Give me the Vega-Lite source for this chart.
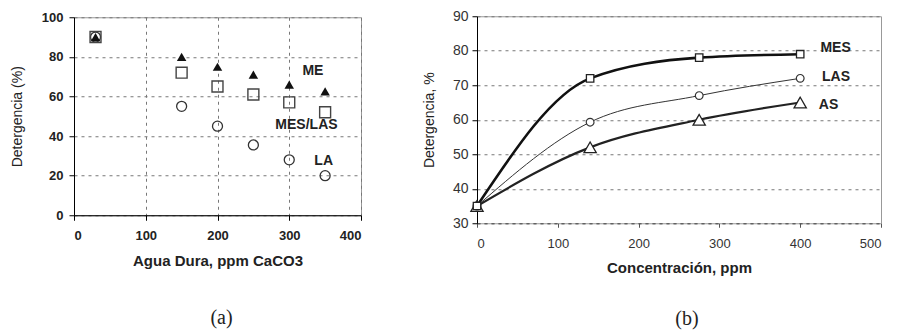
{
  "$schema": "https://vega.github.io/schema/vega-lite/v6.json",
  "background": "white",
  "padding": {"left": 9, "top": 8, "right": 5, "bottom": 0},
  "spacing": 59,
  "center": true,
  "datasets": {
    "a": [
      {"series": "LA", "x": 30, "y": 90},
      {"series": "LA", "x": 150, "y": 55},
      {"series": "LA", "x": 200, "y": 45},
      {"series": "LA", "x": 250, "y": 35.5},
      {"series": "LA", "x": 300, "y": 28},
      {"series": "LA", "x": 350, "y": 20},
      {"series": "MES/LAS", "x": 30, "y": 90},
      {"series": "MES/LAS", "x": 150, "y": 72},
      {"series": "MES/LAS", "x": 200, "y": 65},
      {"series": "MES/LAS", "x": 250, "y": 61},
      {"series": "MES/LAS", "x": 300, "y": 57},
      {"series": "MES/LAS", "x": 350, "y": 52},
      {"series": "ME", "x": 30, "y": 90},
      {"series": "ME", "x": 150, "y": 80},
      {"series": "ME", "x": 200, "y": 75},
      {"series": "ME", "x": 250, "y": 71},
      {"series": "ME", "x": 300, "y": 66},
      {"series": "ME", "x": 350, "y": 62.6}
    ],
    "aLabels": [
      {"label": "ME", "x": 333, "y": 73},
      {"label": "MES/LAS", "x": 324, "y": 45.5},
      {"label": "LA", "x": 348, "y": 27.5}
    ],
    "b": [
      {"series": "MES", "x": 0, "y": 35},
      {"series": "MES", "x": 140, "y": 72},
      {"series": "MES", "x": 275, "y": 78},
      {"series": "MES", "x": 400, "y": 79},
      {"series": "LAS", "x": 0, "y": 35},
      {"series": "LAS", "x": 140, "y": 59.3},
      {"series": "LAS", "x": 275, "y": 67},
      {"series": "LAS", "x": 400, "y": 72},
      {"series": "AS", "x": 0, "y": 35},
      {"series": "AS", "x": 140, "y": 52},
      {"series": "AS", "x": 275, "y": 60},
      {"series": "AS", "x": 400, "y": 65}
    ],
    "bLabels": [
      {"label": "MES", "x": 425, "y": 80.7},
      {"label": "LAS", "x": 427, "y": 72.3},
      {"label": "AS", "x": 423, "y": 64.2}
    ]
  },
  "hconcat": [
    {
      "width": 287,
      "height": 198,
      "title": {"text": "(a)", "orient": "bottom", "frame": "group", "anchor": "middle", "dx": 4, "offset": 40, "font": "Liberation Serif", "fontSize": 20, "fontWeight": "normal", "color": "#222"},
      "encoding": {
        "x": {"field": "x", "type": "quantitative", "scale": {"domain": [0, 400], "nice": false},
          "axis": {"values": [0, 100, 200, 300, 400], "labelOverlap": false, "title": "Agua Dura, ppm  CaCO3", "labelFont": "Liberation Sans", "labelFontWeight": "bold", "labelFontSize": 13, "labelColor": "#222", "labelPadding": 9, "tickSize": 5, "titleFont": "Liberation Sans", "titleFontWeight": "bold", "titleFontSize": 15, "titleColor": "#222", "titlePadding": 11, "domainColor": "#000", "tickColor": "#000", "grid": true, "gridColor": "#777", "gridDash": [3, 4], "gridWidth": 1, "gridOpacity": 1}},
        "y": {"field": "y", "type": "quantitative", "scale": {"domain": [0, 100], "nice": false},
          "axis": {"values": [0, 20, 40, 60, 80, 100], "labelOverlap": false, "title": "Detergencia (%)", "labelFont": "Liberation Sans", "labelFontWeight": "bold", "labelFontSize": 13, "labelColor": "#222", "labelPadding": 6, "tickSize": 5, "titleFont": "Liberation Sans", "titleFontWeight": "normal", "titleFontSize": 14, "titleColor": "#222", "titlePadding": 17, "domainColor": "#000", "tickColor": "#000", "grid": true, "gridColor": "#777", "gridDash": [3, 4], "gridWidth": 1, "gridOpacity": 1}}
      },
      "layer": [
        {
          "data": {"name": "a"},
          "transform": [{"filter": "datum.series === 'LA'"}],
          "mark": {"type": "point", "shape": "circle", "filled": false, "size": 100, "stroke": "#333", "strokeWidth": 1.3, "opacity": 1}
        },
        {
          "data": {"name": "a"},
          "transform": [{"filter": "datum.series === 'MES/LAS'"}],
          "mark": {"type": "point", "shape": "square", "filled": false, "size": 120, "stroke": "#444", "strokeWidth": 1.4, "opacity": 1}
        },
        {
          "data": {"name": "a"},
          "transform": [{"filter": "datum.series === 'ME'"}],
          "mark": {"type": "point", "shape": "triangle-up", "filled": true, "size": 90, "fill": "#111", "opacity": 1}
        },
        {
          "data": {"name": "aLabels"},
          "mark": {"type": "text", "font": "Liberation Sans", "fontWeight": "bold", "fontSize": 14, "fill": "#222"},
          "encoding": {"text": {"field": "label"}}
        }
      ]
    },
    {
      "width": 404,
      "height": 207,
      "title": {"text": "(b)", "orient": "bottom", "frame": "group", "anchor": "middle", "dx": 8, "offset": 34, "font": "Liberation Serif", "fontSize": 20, "fontWeight": "normal", "color": "#222"},
      "encoding": {
        "x": {"field": "x", "type": "quantitative", "scale": {"domain": [0, 500], "nice": false},
          "axis": {"values": [0, 100, 200, 300, 400, 500], "labelOverlap": false, "title": "Concentración, ppm", "labelFont": "Liberation Sans", "labelFontWeight": "normal", "labelFontSize": 13, "labelColor": "#333", "labelPadding": 10, "tickSize": 4, "titleFont": "Liberation Sans", "titleFontWeight": "bold", "titleFontSize": 15, "titleColor": "#222", "titlePadding": 10, "domainColor": "#555", "domainDash": [3, 4], "domainWidth": 1, "tickColor": "#555", "grid": false}},
        "y": {"field": "y", "type": "quantitative", "scale": {"domain": [30, 90], "nice": false},
          "axis": {"values": [30, 40, 50, 60, 70, 80, 90], "labelOverlap": false, "title": "Detergencia, %", "labelFont": "Liberation Sans", "labelFontWeight": "normal", "labelFontSize": 14, "labelColor": "#333", "labelPadding": 4, "tickSize": 5, "titleFont": "Liberation Sans", "titleFontWeight": "normal", "titleFontSize": 14, "titleColor": "#222", "titlePadding": 16, "domainColor": "#000", "tickColor": "#000", "grid": true, "gridColor": "#777", "gridDash": [3, 4], "gridWidth": 1, "gridOpacity": 1}}
      },
      "layer": [
        {
          "data": {"name": "b"},
          "transform": [{"filter": "datum.series === 'AS'"}],
          "mark": {"type": "line", "interpolate": "monotone", "stroke": "#222", "strokeWidth": 2.2}
        },
        {
          "data": {"name": "b"},
          "transform": [{"filter": "datum.series === 'LAS'"}],
          "mark": {"type": "line", "interpolate": "monotone", "stroke": "#333", "strokeWidth": 1}
        },
        {
          "data": {"name": "b"},
          "transform": [{"filter": "datum.series === 'MES'"}],
          "mark": {"type": "line", "interpolate": "monotone", "stroke": "#111", "strokeWidth": 2.6}
        },
        {
          "data": {"name": "b"},
          "transform": [{"filter": "datum.series === 'AS'"}],
          "mark": {"type": "point", "shape": "triangle-up", "filled": true, "size": 150, "fill": "white", "stroke": "#222", "strokeWidth": 1.3, "opacity": 1}
        },
        {
          "data": {"name": "b"},
          "transform": [{"filter": "datum.series === 'LAS'"}],
          "mark": {"type": "point", "shape": "circle", "filled": true, "size": 60, "fill": "white", "stroke": "#333", "strokeWidth": 1.2, "opacity": 1}
        },
        {
          "data": {"name": "b"},
          "transform": [{"filter": "datum.series === 'MES'"}],
          "mark": {"type": "point", "shape": "square", "filled": true, "size": 55, "fill": "white", "stroke": "#222", "strokeWidth": 1.3, "opacity": 1}
        },
        {
          "data": {"name": "bLabels"},
          "mark": {"type": "text", "align": "left", "font": "Liberation Sans", "fontWeight": "bold", "fontSize": 14, "fill": "#222"},
          "encoding": {"text": {"field": "label"}}
        }
      ]
    }
  ],
  "config": {
    "view": {"stroke": "#999", "strokeWidth": 1}
  }
}
